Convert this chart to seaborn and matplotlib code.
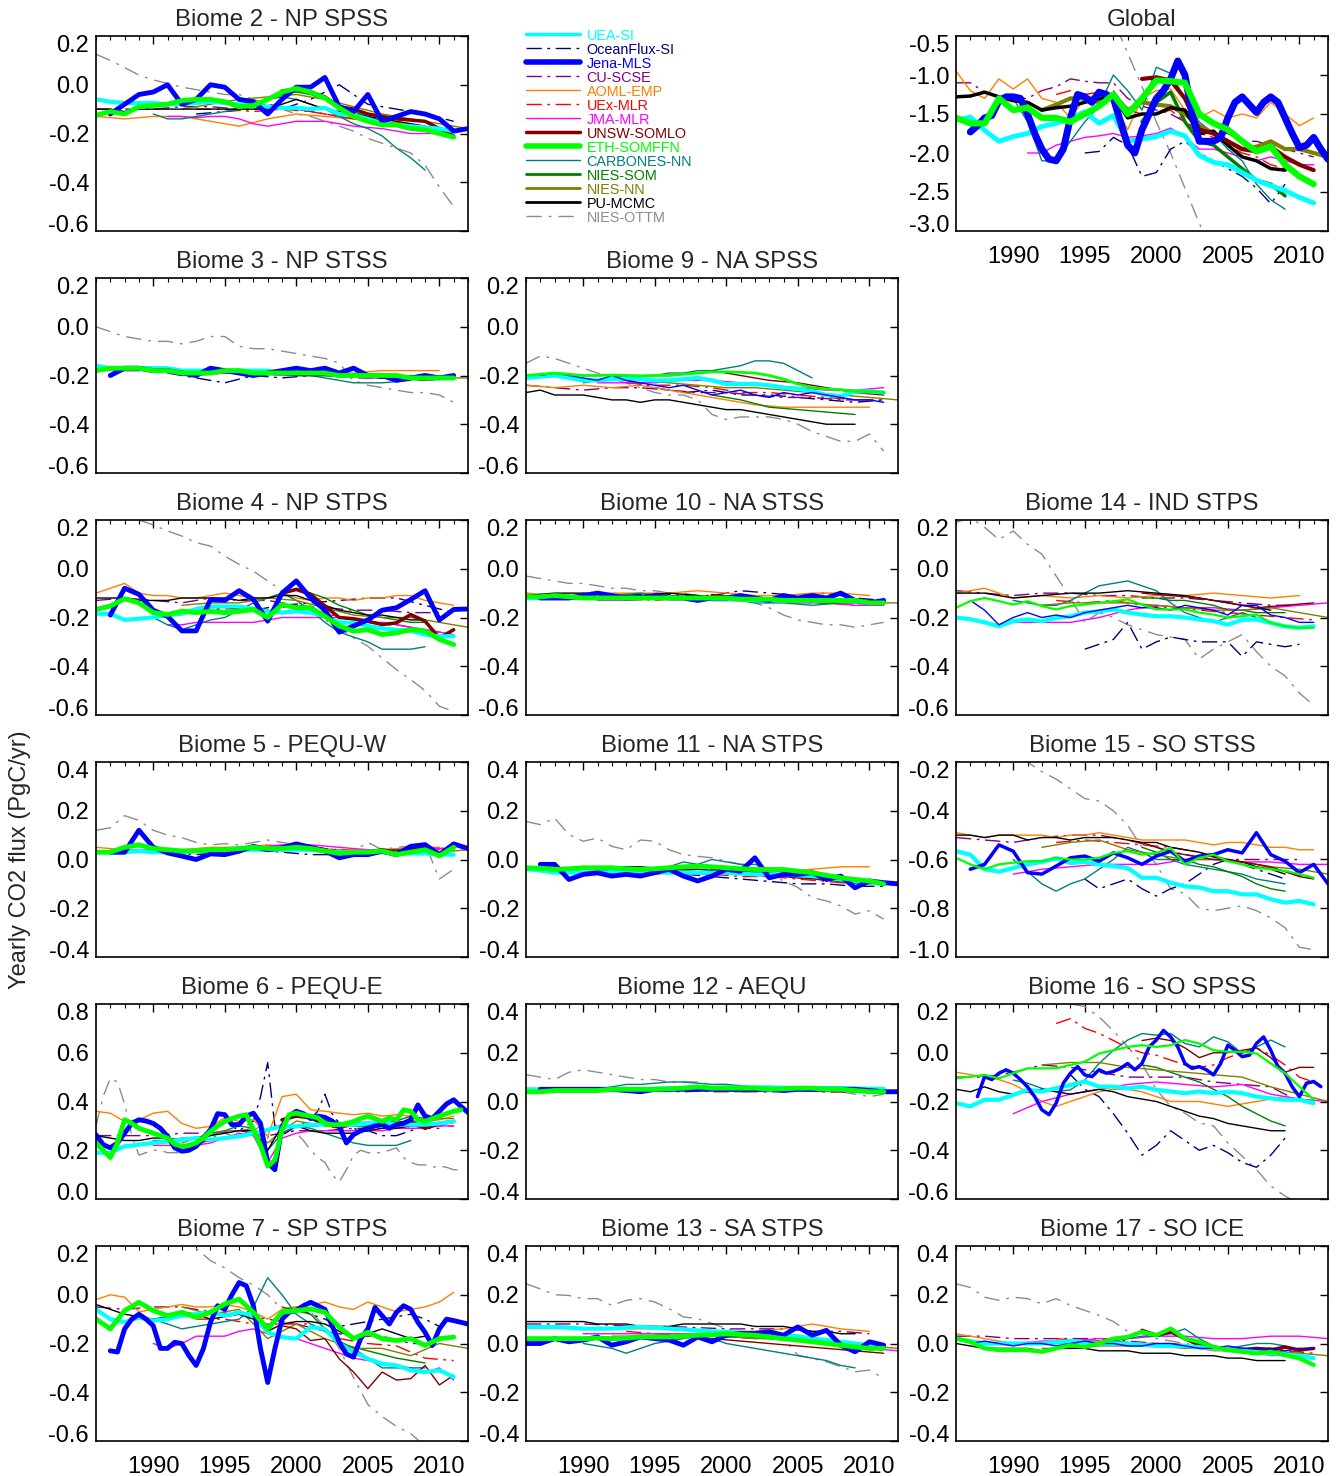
import numpy as np
import matplotlib
matplotlib.use("Agg")
import matplotlib.pyplot as plt
from matplotlib.lines import Line2D
from matplotlib.transforms import ScaledTranslation
from matplotlib.ticker import FormatStrFormatter, MultipleLocator, FixedLocator
import seaborn as sns

# ---------------- series metadata ----------------
SERIES = ["UEA", "OFX", "JENA", "CU", "AOML", "UEX", "JMA", "UNSW", "ETH", "CARB", "NSOM", "NNN", "PU", "OTTM"]
LABELS = ["UEA-SI", "OceanFlux-SI", "Jena-MLS", "CU-SCSE", "AOML-EMP", "UEx-MLR", "JMA-MLR",
          "UNSW-SOMLO", "ETH-SOMFFN", "CARBONES-NN", "NIES-SOM", "NIES-NN", "PU-MCMC", "NIES-OTTM"]
COLORS = ["#00FFFF", "#00007F", "#0000FF", "#7F007F", "#FF7F00", "#FF0000", "#FF00FF",
          "#7F0000", "#00FF00", "#007F7F", "#007F00", "#7F7F00", "#000000", "#8C8C8C"]

# ---------------- data: (start year, step in years, values) ----------------
GLOBAL = dict(
    UEA=(1986, 1, [-1.58,-1.54,-1.71,-1.85,-1.79,-1.75,-1.66,-1.62,-1.56,-1.47,-1.62,-1.52,-1.85,-1.82,-1.79,-1.72,-1.78,-2.03,-2.12,-2.15,-2.25,-2.35,-2.42,-2.48,-2.57,-2.64]),
    JENA=(1987, 0.5, [-1.73,-1.65,-1.55,-1.52,-1.33,-1.28,-1.28,-1.3,-1.5,-1.75,-1.95,-2.08,-2.1,-1.95,-1.55,-1.25,-1.28,-1.35,-1.22,-1.25,-1.3,-1.6,-1.9,-2.0,-1.7,-1.5,-1.3,-1.2,-1.05,-0.82,-1.0,-1.5,-1.85,-1.85,-1.85,-1.8,-1.55,-1.35,-1.28,-1.38,-1.48,-1.35,-1.28,-1.35,-1.55,-1.75,-1.93,-1.9,-1.8,-1.95,-2.08]),
    ETH=(1986, 1, [-1.55,-1.62,-1.62,-1.3,-1.45,-1.42,-1.55,-1.55,-1.6,-1.5,-1.4,-1.25,-1.5,-1.3,-1.07,-1.08,-1.1,-1.5,-1.62,-1.7,-1.85,-1.98,-1.92,-2.15,-2.3,-2.4]),
    UNSW=(1999, 1, [-1.05,-1.03,-1.07,-1.3,-1.7,-1.75,-1.85,-1.95,-1.98,-1.92,-2.05,-2.15,-2.22]),
    PU=(1986, 1, [-1.28,-1.27,-1.22,-1.28,-1.33,-1.35,-1.45,-1.42,-1.4,-1.35,-1.3,-1.28,-1.55,-1.5,-1.5,-1.42,-1.45,-1.75,-1.72,-1.9,-2.05,-2.1,-2.2,-2.22]),
    NNN=(1992, 1, [-1.45,-1.38,-1.3,-1.3,-1.35,-1.25,-1.45,-1.35,-1.38,-1.4,-1.5,-1.65,-1.75,-1.85,-1.95,-1.92,-1.85,-1.95,-1.95,-2.0,-2.05]),
    NSOM=(1999, 1, [-1.6,-1.35,-1.22,-1.6,-1.85,-1.9,-2.05,-2.2,-2.35,-2.4,-2.55]),
    CARB=(1990, 1, [-1.3,-1.6,-2.1,-2.1,-1.85,-1.6,-1.4,-1.0,-1.2,-1.45,-0.9,-0.98,-1.3,-1.6,-1.75,-1.95,-2.1,-2.4,-2.6,-2.72]),
    AOML=(1986, 1, [-0.95,-1.2,-1.3,-1.05,-1.18,-1.05,-1.3,-1.35,-1.55,-1.3,-1.25,-1.35,-1.7,-1.3,-1.2,-1.18,-1.45,-1.55,-1.45,-1.55,-1.5,-1.55,-1.35,-1.5,-1.65,-1.55]),
    JMA=(1991, 1, [-2.0,-2.0,-1.9,-1.85,-1.8,-1.78,-1.75,-1.8,-1.78,-1.75,-1.68,-1.8,-1.95,-1.95,-2.0,-2.05,-2.1,-2.05,-2.1,-2.15,-2.15]),
    CU=(1986, 1, [-1.1,-1.1,-1.22,-1.28,-1.3,-1.3,-1.2,-1.15,-1.05,-1.08,-1.1,-1.1,-1.3,-1.4,-1.45,-1.5,-1.6,-1.7,-1.75,-1.75,-1.85,-1.85,-1.9,-1.95,-2.0,-2.05]),
    UEX=(1993, 1, [-1.25,-1.2,-1.25,-1.22,-1.2,-1.45,-1.5,-1.5,-1.45,-1.6,-1.75,-1.8,-1.9,-2.0,-2.05,-2.15,-2.2,-2.3,-2.4]),
    OFX=(1995, 1, [-2.0,-1.98,-1.8,-1.9,-2.3,-2.25,-1.95,-1.85,-2.0,-2.1,-2.2,-2.3,-2.45,-2.65,-2.4]),
    OTTM=(1996, 1, [-0.05,-0.3,-0.72,-1.15,-1.6,-2.0,-2.45,-2.9,-3.3]),
)

B2 = dict(
    UEA=(1986, 1, [-0.06,-0.07,-0.075,-0.075,-0.075,-0.08,-0.08,-0.075,-0.07,-0.075,-0.08,-0.085,-0.09,-0.095,-0.095,-0.1,-0.095,-0.12,-0.125,-0.14,-0.16,-0.165,-0.17,-0.175,-0.18,-0.19]),
    JENA=(1987, 1, [-0.12,-0.08,-0.04,-0.03,0.0,-0.08,-0.06,0.0,-0.01,-0.06,-0.07,-0.12,-0.06,-0.01,-0.01,0.03,-0.09,-0.11,-0.04,-0.15,-0.13,-0.11,-0.12,-0.14,-0.19,-0.18]),
    ETH=(1986, 1, [-0.125,-0.11,-0.12,-0.09,-0.085,-0.08,-0.065,-0.06,-0.06,-0.07,-0.09,-0.085,-0.06,-0.03,-0.015,-0.03,-0.055,-0.095,-0.13,-0.15,-0.165,-0.165,-0.18,-0.185,-0.2,-0.215]),
    UNSW=(1999, 1, [-0.025,-0.02,-0.03,-0.05,-0.09,-0.1,-0.12,-0.13,-0.14,-0.145,-0.15,-0.18,-0.21]),
    JMA=(1991, 1, [-0.13,-0.13,-0.135,-0.13,-0.13,-0.14,-0.16,-0.17,-0.16,-0.15,-0.15,-0.15,-0.16,-0.17,-0.175,-0.18,-0.19,-0.2,-0.2,-0.2,-0.22]),
    OTTM=(1986, 1, [0.125,0.1,0.07,0.04,0.02,0.005,-0.01,-0.02,-0.03,-0.04,-0.04,-0.06,-0.08,-0.1,-0.12,-0.13,-0.15,-0.17,-0.19,-0.22,-0.24,-0.26,-0.28,-0.33,-0.42,-0.5]),
    PU=(1986, 1, [-0.1,-0.1,-0.11,-0.1,-0.1,-0.1,-0.1,-0.1,-0.1,-0.1,-0.1,-0.1,-0.1,-0.08,-0.06,-0.08,-0.1,-0.11,-0.12,-0.13,-0.14,-0.15,-0.16,-0.17]),
    AOML=(1986, 2, [-0.13,-0.14,-0.13,-0.13,-0.15,-0.17,-0.14,-0.12,-0.13,-0.14,-0.15,-0.16,-0.18]),
    CU=(1986, 2, [-0.1,-0.1,-0.1,-0.09,-0.09,-0.1,-0.08,-0.1,-0.12,-0.14,-0.15,-0.17,-0.19]),
    CARB=(1990, 1, [-0.12,-0.14,-0.14,-0.13,-0.12,-0.11,-0.1,-0.08,-0.06,-0.05,-0.06,-0.08,-0.1,-0.13,-0.16,-0.18,-0.21,-0.26,-0.3,-0.35]),
    UEX=(1993, 2, [-0.1,-0.1,-0.11,-0.1,-0.11,-0.13,-0.15,-0.17,-0.19,-0.2]),
    NNN=(1992, 2, [-0.1,-0.08,-0.06,-0.05,-0.04,-0.06,-0.09,-0.12,-0.14,-0.16,-0.18]),
    NSOM=(1999, 1, [-0.04,-0.03,-0.04,-0.06,-0.09,-0.11,-0.13,-0.15,-0.16,-0.17,-0.19]),
    OFX=(1993, 2, [-0.12,-0.11,-0.1,-0.1,-0.06,0.0,-0.08,-0.1,-0.12,-0.15]),
)

B3 = dict(
    UEA=(1986, 1, [-0.16,-0.17,-0.17,-0.17,-0.17,-0.17,-0.18,-0.18,-0.18,-0.18,-0.18,-0.18,-0.18,-0.19,-0.19,-0.19,-0.19,-0.2,-0.2,-0.2,-0.2,-0.21,-0.21,-0.2,-0.21,-0.21]),
    JENA=(1987, 1, [-0.2,-0.17,-0.17,-0.18,-0.18,-0.19,-0.2,-0.17,-0.18,-0.19,-0.2,-0.19,-0.18,-0.17,-0.18,-0.17,-0.19,-0.17,-0.2,-0.2,-0.22,-0.21,-0.2,-0.21,-0.2]),
    ETH=(1986, 1, [-0.18,-0.17,-0.17,-0.17,-0.18,-0.18,-0.19,-0.19,-0.19,-0.18,-0.18,-0.19,-0.19,-0.19,-0.19,-0.19,-0.19,-0.2,-0.2,-0.2,-0.2,-0.2,-0.21,-0.21,-0.21,-0.21]),
    OTTM=(1986, 1, [0.0,-0.02,-0.04,-0.05,-0.06,-0.06,-0.07,-0.06,-0.04,-0.04,-0.08,-0.09,-0.09,-0.1,-0.11,-0.12,-0.13,-0.15,-0.22,-0.24,-0.25,-0.26,-0.27,-0.27,-0.28,-0.31]),
    PU=(1986, 2, [-0.18,-0.17,-0.18,-0.19,-0.19,-0.18,-0.19,-0.2,-0.2,-0.2,-0.21,-0.21]),
    AOML=(1986, 2, [-0.18,-0.18,-0.17,-0.18,-0.18,-0.18,-0.18,-0.19,-0.19,-0.19,-0.18,-0.18,-0.18]),
    CU=(1986, 2, [-0.17,-0.18,-0.18,-0.19,-0.19,-0.19,-0.19,-0.2,-0.2,-0.21,-0.21,-0.21,-0.2]),
    OFX=(1991, 2, [-0.19,-0.21,-0.23,-0.2,-0.21,-0.2,-0.19,-0.2,-0.21,-0.22,-0.21]),
    UEX=(1993, 2, [-0.18,-0.19,-0.18,-0.19,-0.19,-0.2,-0.2,-0.21,-0.21,-0.2]),
    JMA=(1991, 2, [-0.19,-0.2,-0.19,-0.19,-0.2,-0.2,-0.2,-0.21,-0.21,-0.22,-0.21]),
    UNSW=(1999, 2, [-0.19,-0.19,-0.2,-0.2,-0.21,-0.21,-0.21]),
    CARB=(1990, 2, [-0.18,-0.19,-0.18,-0.18,-0.19,-0.19,-0.21,-0.23,-0.23,-0.22]),
    NSOM=(1999, 2, [-0.18,-0.19,-0.2,-0.2,-0.21,-0.22]),
    NNN=(1992, 2, [-0.18,-0.18,-0.19,-0.19,-0.19,-0.2,-0.2,-0.21,-0.2,-0.21,-0.21]),
)

B9 = dict(
    UEA=(1986, 1, [-0.21,-0.205,-0.2,-0.21,-0.22,-0.22,-0.215,-0.215,-0.215,-0.22,-0.22,-0.215,-0.21,-0.22,-0.235,-0.235,-0.235,-0.24,-0.25,-0.255,-0.265,-0.28,-0.285,-0.265,-0.265,-0.27]),
    ETH=(1986, 1, [-0.2,-0.195,-0.19,-0.195,-0.2,-0.2,-0.198,-0.2,-0.202,-0.2,-0.2,-0.195,-0.19,-0.185,-0.185,-0.187,-0.19,-0.2,-0.215,-0.235,-0.25,-0.255,-0.258,-0.265,-0.265,-0.27]),
    JENA=(1987, 1, [-0.2,-0.19,-0.2,-0.21,-0.22,-0.2,-0.22,-0.23,-0.24,-0.25,-0.24,-0.26,-0.28,-0.27,-0.26,-0.28,-0.29,-0.27,-0.28,-0.27,-0.28,-0.29,-0.3,-0.3,-0.31]),
    OTTM=(1986, 1, [-0.15,-0.12,-0.13,-0.15,-0.17,-0.19,-0.21,-0.23,-0.25,-0.27,-0.28,-0.28,-0.3,-0.36,-0.38,-0.37,-0.37,-0.37,-0.38,-0.4,-0.43,-0.45,-0.47,-0.47,-0.44,-0.51]),
    PU=(1986, 1, [-0.27,-0.26,-0.28,-0.28,-0.28,-0.29,-0.3,-0.3,-0.31,-0.3,-0.3,-0.31,-0.32,-0.33,-0.34,-0.34,-0.35,-0.36,-0.37,-0.38,-0.39,-0.4,-0.4,-0.4]),
    AOML=(1986, 2, [-0.24,-0.25,-0.24,-0.25,-0.24,-0.26,-0.28,-0.3,-0.32,-0.33,-0.33,-0.33,-0.33]),
    CU=(1986, 2, [-0.24,-0.25,-0.26,-0.25,-0.25,-0.26,-0.27,-0.27,-0.28,-0.29,-0.29,-0.3,-0.3]),
    CARB=(1990, 1, [-0.23,-0.22,-0.21,-0.2,-0.2,-0.2,-0.19,-0.19,-0.18,-0.18,-0.17,-0.16,-0.14,-0.14,-0.15,-0.18,-0.21]),
    UEX=(1993, 2, [-0.23,-0.24,-0.24,-0.25,-0.27,-0.27,-0.28,-0.29,-0.3,-0.3]),
    JMA=(1991, 2, [-0.23,-0.23,-0.23,-0.22,-0.22,-0.23,-0.24,-0.25,-0.26,-0.26,-0.25]),
    UNSW=(1999, 2, [-0.18,-0.2,-0.22,-0.23,-0.25,-0.27,-0.28]),
    NSOM=(1999, 2, [-0.28,-0.3,-0.33,-0.34,-0.35,-0.36]),
    NNN=(1992, 2, [-0.22,-0.22,-0.23,-0.24,-0.25,-0.25,-0.26,-0.27,-0.28,-0.29,-0.3]),
    OFX=(1991, 2, [-0.22,-0.22,-0.25,-0.27,-0.26,-0.28,-0.28,-0.29,-0.3,-0.31,-0.3]),
)

B4 = dict(
    JENA=(1987, 1, [-0.19,-0.08,-0.105,-0.17,-0.195,-0.255,-0.255,-0.126,-0.13,-0.09,-0.126,-0.215,-0.1,-0.05,-0.12,-0.17,-0.26,-0.235,-0.21,-0.17,-0.16,-0.126,-0.09,-0.21,-0.167,-0.165]),
    UEA=(1986, 1, [-0.185,-0.185,-0.21,-0.205,-0.2,-0.19,-0.185,-0.165,-0.155,-0.155,-0.155,-0.165,-0.175,-0.18,-0.175,-0.18,-0.195,-0.22,-0.222,-0.235,-0.245,-0.25,-0.255,-0.27,-0.277,-0.277]),
    ETH=(1986, 1, [-0.167,-0.153,-0.123,-0.14,-0.18,-0.188,-0.174,-0.18,-0.175,-0.18,-0.175,-0.167,-0.2,-0.147,-0.16,-0.16,-0.195,-0.235,-0.256,-0.25,-0.27,-0.263,-0.25,-0.255,-0.29,-0.311]),
    UNSW=(1999, 1, [-0.1,-0.085,-0.105,-0.153,-0.2,-0.205,-0.215,-0.229,-0.222,-0.188,-0.215,-0.284,-0.25]),
    OTTM=(1987, 1, [0.26,0.23,0.2,0.18,0.155,0.134,0.107,0.093,0.052,0.018,-0.01,-0.05,-0.09,-0.133,-0.167,-0.21,-0.242,-0.284,-0.318,-0.366,-0.414,-0.455,-0.5,-0.564,-0.585]),
    AOML=(1986, 1, [-0.1,-0.08,-0.06,-0.1,-0.11,-0.11,-0.12,-0.12,-0.11,-0.1,-0.11,-0.12,-0.12,-0.1,-0.12,-0.13,-0.12,-0.12,-0.13,-0.12,-0.12,-0.11,-0.11,-0.13,-0.14,-0.15]),
    PU=(1986, 1, [-0.12,-0.12,-0.12,-0.13,-0.13,-0.13,-0.12,-0.12,-0.12,-0.12,-0.13,-0.12,-0.12,-0.11,-0.11,-0.13,-0.15,-0.17,-0.18,-0.19,-0.19,-0.2,-0.21,-0.21]),
    CU=(1986, 2, [-0.13,-0.12,-0.13,-0.14,-0.12,-0.13,-0.13,-0.15,-0.16,-0.17,-0.17,-0.18,-0.18]),
    JMA=(1991, 1, [-0.23,-0.23,-0.22,-0.22,-0.22,-0.22,-0.22,-0.21,-0.2,-0.2,-0.2,-0.2,-0.2,-0.21,-0.22,-0.22,-0.23,-0.24,-0.25,-0.26,-0.27]),
    CARB=(1990, 1, [-0.2,-0.23,-0.25,-0.23,-0.21,-0.2,-0.17,-0.14,-0.12,-0.1,-0.13,-0.17,-0.22,-0.26,-0.28,-0.3,-0.33,-0.33,-0.33,-0.32]),
    UEX=(1993, 1, [-0.16,-0.16,-0.17,-0.17,-0.16,-0.17,-0.16,-0.15,-0.17,-0.18,-0.2,-0.21,-0.22,-0.23,-0.23,-0.24,-0.25,-0.26,-0.27]),
    NNN=(1992, 2, [-0.15,-0.14,-0.14,-0.12,-0.13,-0.16,-0.19,-0.2,-0.2,-0.22,-0.24]),
    NSOM=(1999, 1, [-0.1,-0.08,-0.1,-0.12,-0.15,-0.17,-0.19,-0.2,-0.21,-0.22,-0.22]),
    OFX=(1993, 2, [-0.18,-0.16,-0.17,-0.15,-0.14,-0.13,-0.12,-0.12,-0.15,-0.18]),
)

B10 = dict(
    JENA=(1987, 1, [-0.12,-0.12,-0.12,-0.11,-0.1,-0.11,-0.12,-0.12,-0.11,-0.12,-0.12,-0.13,-0.12,-0.12,-0.11,-0.12,-0.13,-0.11,-0.12,-0.11,-0.12,-0.1,-0.13,-0.14,-0.13]),
    UEA=(1986, 1, [-0.12,-0.12,-0.12,-0.12,-0.12,-0.12,-0.12,-0.12,-0.12,-0.12,-0.12,-0.12,-0.12,-0.125,-0.125,-0.125,-0.13,-0.13,-0.13,-0.13,-0.13,-0.13,-0.13,-0.135,-0.14,-0.14]),
    ETH=(1986, 1, [-0.115,-0.115,-0.11,-0.115,-0.12,-0.12,-0.12,-0.12,-0.12,-0.12,-0.12,-0.12,-0.12,-0.12,-0.12,-0.125,-0.125,-0.125,-0.13,-0.13,-0.13,-0.13,-0.13,-0.13,-0.14,-0.14]),
    OTTM=(1986, 1, [-0.03,-0.04,-0.05,-0.06,-0.06,-0.07,-0.08,-0.08,-0.09,-0.09,-0.1,-0.1,-0.11,-0.11,-0.12,-0.13,-0.14,-0.16,-0.19,-0.21,-0.22,-0.23,-0.23,-0.24,-0.23,-0.22]),
    PU=(1986, 2, [-0.11,-0.1,-0.1,-0.11,-0.11,-0.1,-0.11,-0.12,-0.12,-0.12,-0.13,-0.13]),
    AOML=(1986, 2, [-0.1,-0.11,-0.11,-0.1,-0.1,-0.1,-0.09,-0.1,-0.11,-0.11,-0.1,-0.1,-0.11]),
    CU=(1986, 2, [-0.11,-0.12,-0.11,-0.12,-0.12,-0.11,-0.12,-0.13,-0.13,-0.13,-0.14,-0.14,-0.14]),
    CARB=(1990, 2, [-0.1,-0.11,-0.1,-0.12,-0.13,-0.12,-0.14,-0.14,-0.15,-0.14]),
    UEX=(1993, 2, [-0.12,-0.13,-0.12,-0.13,-0.13,-0.14,-0.13,-0.14,-0.15,-0.15]),
    JMA=(1991, 2, [-0.13,-0.13,-0.12,-0.12,-0.13,-0.13,-0.13,-0.14,-0.14,-0.15,-0.15]),
    UNSW=(1999, 2, [-0.11,-0.12,-0.13,-0.12,-0.13,-0.13,-0.14]),
    NSOM=(1999, 2, [-0.12,-0.12,-0.13,-0.13,-0.14,-0.14]),
    NNN=(1992, 2, [-0.11,-0.11,-0.12,-0.12,-0.12,-0.13,-0.13,-0.13,-0.14,-0.14,-0.14]),
    OFX=(1991, 2, [-0.12,-0.11,-0.1,-0.11,-0.11,-0.09,-0.1,-0.11,-0.1,-0.12,-0.13]),
)

B14 = dict(
    UEA=(1986, 1, [-0.2,-0.207,-0.22,-0.236,-0.215,-0.208,-0.215,-0.202,-0.195,-0.18,-0.175,-0.167,-0.18,-0.188,-0.195,-0.195,-0.2,-0.208,-0.215,-0.229,-0.21,-0.208,-0.222,-0.236,-0.242,-0.236]),
    ETH=(1986, 1, [-0.16,-0.133,-0.12,-0.133,-0.147,-0.133,-0.153,-0.167,-0.153,-0.147,-0.14,-0.133,-0.126,-0.147,-0.167,-0.167,-0.167,-0.18,-0.188,-0.2,-0.195,-0.188,-0.222,-0.236,-0.242,-0.242]),
    JENA=(1987, 1, [-0.13,-0.17,-0.23,-0.2,-0.18,-0.2,-0.19,-0.2,-0.18,-0.17,-0.16,-0.15,-0.16,-0.16,-0.17,-0.15,-0.16,-0.17,-0.19,-0.15,-0.15,-0.19,-0.2,-0.22,-0.22]),
    OTTM=(1986, 1, [0.19,0.21,0.17,0.12,0.155,0.1,0.06,-0.03,-0.12,-0.22,-0.18,-0.2,-0.23,-0.25,-0.27,-0.28,-0.29,-0.37,-0.33,-0.3,-0.27,-0.34,-0.4,-0.44,-0.51,-0.56]),
    OFX=(1995, 1, [-0.33,-0.31,-0.29,-0.22,-0.33,-0.3,-0.28,-0.29,-0.3,-0.3,-0.3,-0.36,-0.3,-0.31,-0.32,-0.31]),
    PU=(1986, 2, [-0.1,-0.1,-0.12,-0.11,-0.1,-0.1,-0.09,-0.1,-0.11,-0.13,-0.15,-0.17]),
    CU=(1986, 2, [-0.09,-0.1,-0.11,-0.1,-0.1,-0.11,-0.11,-0.12,-0.12,-0.13,-0.14,-0.15,-0.15]),
    AOML=(1986, 2, [-0.1,-0.08,-0.12,-0.11,-0.12,-0.11,-0.12,-0.11,-0.11,-0.1,-0.11,-0.12,-0.11]),
    CARB=(1990, 1, [-0.13,-0.14,-0.15,-0.15,-0.13,-0.1,-0.07,-0.06,-0.05,-0.07,-0.09,-0.14,-0.18,-0.2,-0.22,-0.2,-0.18,-0.2]),
    UEX=(1993, 2, [-0.13,-0.14,-0.13,-0.15,-0.16,-0.17,-0.18,-0.19,-0.2,-0.21]),
    JMA=(1990, 2, [-0.22,-0.22,-0.22,-0.2,-0.17,-0.15,-0.16,-0.16,-0.17,-0.16,-0.15,-0.14]),
    NNN=(1992, 2, [-0.15,-0.14,-0.14,-0.14,-0.15,-0.16,-0.17,-0.17,-0.16,-0.18,-0.2]),
    NSOM=(1999, 1, [-0.12,-0.12,-0.13,-0.13,-0.14,-0.15,-0.17,-0.17,-0.18,-0.18,-0.18]),
    UNSW=(1999, 2, [-0.1,-0.11,-0.12,-0.14,-0.16,-0.15,-0.14]),
)

B5 = dict(
    JENA=(1987, 1, [0.03,0.03,0.12,0.05,0.027,0.014,0.0,0.023,0.02,0.034,0.054,0.04,0.048,0.064,0.05,0.035,0.007,0.02,0.02,0.034,0.02,0.054,0.061,0.02,0.064,0.045]),
    UEA=(1986, 1, [0.03,0.03,0.03,0.035,0.03,0.03,0.03,0.035,0.035,0.035,0.04,0.04,0.04,0.04,0.04,0.04,0.035,0.03,0.03,0.03,0.03,0.025,0.025,0.025,0.02,0.02]),
    ETH=(1986, 1, [0.03,0.03,0.05,0.06,0.045,0.04,0.035,0.035,0.04,0.04,0.045,0.05,0.045,0.045,0.05,0.045,0.035,0.025,0.03,0.03,0.035,0.02,0.03,0.04,0.015,0.05]),
    OTTM=(1986, 1, [0.12,0.13,0.18,0.16,0.12,0.1,0.09,0.07,0.06,0.065,0.06,0.07,0.08,0.07,0.06,0.05,0.045,0.04,0.035,0.07,0.04,0.05,0.055,0.065,-0.08,-0.04]),
    AOML=(1986, 2, [0.05,0.04,0.04,0.04,0.05,0.05,0.06,0.05,0.04,0.04,0.04,0.05,0.05]),
    PU=(1986, 2, [0.03,0.03,0.04,0.04,0.04,0.05,0.05,0.05,0.04,0.03,0.03,0.03]),
    CU=(1986, 2, [0.03,0.04,0.04,0.04,0.04,0.05,0.05,0.05,0.04,0.04,0.04,0.04,0.04]),
    JMA=(1991, 2, [0.04,0.04,0.04,0.05,0.06,0.06,0.05,0.04,0.04,0.05,0.04]),
    UEX=(1993, 2, [0.04,0.04,0.05,0.05,0.05,0.04,0.03,0.04,0.04,0.05]),
    UNSW=(1999, 1, [0.04,0.05,0.05,0.04,0.03,0.03,0.03,0.04,0.03,0.04,0.05,0.02,0.05]),
    CARB=(1990, 2, [0.03,0.03,0.04,0.04,0.05,0.04,0.03,0.03,0.03,0.03]),
    NSOM=(1999, 2, [0.04,0.05,0.03,0.03,0.04,0.04]),
    NNN=(1992, 2, [0.03,0.03,0.04,0.05,0.05,0.04,0.03,0.03,0.04,0.03,0.04]),
    OFX=(1991, 2, [0.03,0.02,0.03,0.04,0.03,0.02,0.02,0.03,0.03,0.02,0.02]),
)

B11 = dict(
    JENA=(1987, 1, [-0.02,-0.02,-0.082,-0.061,-0.055,-0.068,-0.061,-0.068,-0.054,-0.04,-0.068,-0.088,-0.068,-0.04,-0.048,0.007,-0.075,-0.061,-0.061,-0.054,-0.082,-0.068,-0.116,-0.088,-0.095,-0.1]),
    UEA=(1986, 1, [-0.04,-0.045,-0.054,-0.054,-0.054,-0.054,-0.054,-0.052,-0.048,-0.05,-0.054,-0.054,-0.054,-0.054,-0.054,-0.058,-0.061,-0.061,-0.061,-0.065,-0.068,-0.075,-0.082,-0.088,-0.095,-0.098]),
    ETH=(1986, 1, [-0.034,-0.036,-0.041,-0.038,-0.034,-0.034,-0.034,-0.038,-0.041,-0.038,-0.034,-0.03,-0.027,-0.03,-0.034,-0.038,-0.041,-0.041,-0.041,-0.048,-0.054,-0.065,-0.075,-0.082,-0.088,-0.1]),
    OTTM=(1986, 1, [0.156,0.143,0.17,0.102,0.075,0.088,0.054,0.04,0.08,0.075,0.04,0.02,0.013,0.007,-0.007,-0.02,-0.04,-0.06,-0.088,-0.115,-0.156,-0.17,-0.19,-0.224,-0.21,-0.245]),
    AOML=(1986, 2, [-0.03,-0.04,-0.04,-0.05,-0.05,-0.04,-0.05,-0.05,-0.04,-0.05,-0.04,-0.03,-0.03]),
    PU=(1986, 2, [-0.03,-0.04,-0.04,-0.03,-0.03,-0.04,-0.04,-0.05,-0.05,-0.06,-0.07,-0.08]),
    CU=(1986, 2, [-0.03,-0.04,-0.05,-0.05,-0.04,-0.05,-0.05,-0.06,-0.06,-0.07,-0.08,-0.09,-0.1]),
    CARB=(1990, 1, [-0.05,-0.05,-0.04,-0.05,-0.05,-0.04,-0.03,-0.01,-0.02,0.0,-0.01,-0.02,-0.02,-0.04,-0.05,-0.06,-0.07,-0.08,-0.09,-0.1]),
    UEX=(1993, 2, [-0.05,-0.06,-0.05,-0.06,-0.07,-0.07,-0.08,-0.09,-0.1,-0.1]),
    JMA=(1991, 2, [-0.06,-0.05,-0.05,-0.06,-0.06,-0.06,-0.07,-0.07,-0.08,-0.09,-0.1]),
    UNSW=(1999, 2, [-0.04,-0.05,-0.06,-0.07,-0.08,-0.09,-0.1]),
    NSOM=(1999, 2, [-0.05,-0.05,-0.06,-0.07,-0.08,-0.09]),
    NNN=(1992, 2, [-0.04,-0.05,-0.04,-0.05,-0.05,-0.06,-0.06,-0.07,-0.08,-0.09,-0.1]),
    OFX=(1991, 2, [-0.05,-0.06,-0.05,-0.06,-0.07,-0.08,-0.09,-0.1,-0.1,-0.11,-0.11]),
)

B15 = dict(
    UEA=(1986, 1, [-0.566,-0.58,-0.64,-0.65,-0.635,-0.62,-0.61,-0.595,-0.615,-0.61,-0.62,-0.627,-0.635,-0.675,-0.675,-0.695,-0.71,-0.715,-0.73,-0.73,-0.743,-0.743,-0.763,-0.777,-0.77,-0.784]),
    JENA=(1987, 1, [-0.64,-0.62,-0.54,-0.566,-0.654,-0.66,-0.627,-0.593,-0.586,-0.607,-0.573,-0.593,-0.62,-0.586,-0.566,-0.607,-0.586,-0.58,-0.56,-0.573,-0.49,-0.58,-0.607,-0.654,-0.62,-0.7]),
    ETH=(1986, 1, [-0.593,-0.62,-0.64,-0.62,-0.613,-0.607,-0.607,-0.593,-0.6,-0.6,-0.593,-0.573,-0.566,-0.58,-0.573,-0.553,-0.62,-0.593,-0.58,-0.607,-0.62,-0.634,-0.64,-0.647,-0.66,-0.675]),
    OTTM=(1989, 1, [-0.1,-0.17,-0.2,-0.24,-0.27,-0.31,-0.35,-0.36,-0.4,-0.46,-0.55,-0.62,-0.72,-0.74,-0.8,-0.81,-0.8,-0.79,-0.81,-0.84,-0.88,-0.96,-0.97]),
    AOML=(1986, 1, [-0.49,-0.5,-0.51,-0.5,-0.5,-0.5,-0.5,-0.51,-0.5,-0.5,-0.49,-0.5,-0.51,-0.52,-0.52,-0.52,-0.52,-0.53,-0.54,-0.53,-0.53,-0.54,-0.55,-0.55,-0.56,-0.56]),
    PU=(1986, 1, [-0.5,-0.5,-0.51,-0.5,-0.5,-0.52,-0.51,-0.51,-0.52,-0.51,-0.51,-0.51,-0.52,-0.53,-0.53,-0.55,-0.56,-0.57,-0.59,-0.6,-0.61,-0.63,-0.64,-0.66]),
    CU=(1986, 2, [-0.51,-0.52,-0.53,-0.51,-0.5,-0.5,-0.52,-0.55,-0.58,-0.6,-0.6,-0.6,-0.6]),
    CARB=(1990, 1, [-0.6,-0.65,-0.7,-0.73,-0.7,-0.68,-0.64,-0.6,-0.55,-0.57,-0.6,-0.6,-0.62,-0.63,-0.64,-0.65,-0.66,-0.68,-0.69,-0.7]),
    UEX=(1993, 2, [-0.53,-0.52,-0.53,-0.54,-0.55,-0.57,-0.6,-0.62,-0.65,-0.68]),
    JMA=(1990, 2, [-0.66,-0.64,-0.63,-0.62,-0.62,-0.62,-0.6,-0.6,-0.61,-0.61,-0.62,-0.62]),
    UNSW=(1999, 1, [-0.53,-0.55,-0.57,-0.58,-0.59,-0.6,-0.6,-0.61,-0.62,-0.63,-0.65,-0.67,-0.68]),
    NSOM=(1999, 1, [-0.55,-0.57,-0.6,-0.6,-0.62,-0.63,-0.65,-0.67,-0.7,-0.72,-0.73]),
    NNN=(1992, 2, [-0.55,-0.53,-0.52,-0.56,-0.58,-0.6,-0.6,-0.61,-0.63,-0.64,-0.66]),
    OFX=(1995, 1, [-0.68,-0.72,-0.7,-0.68,-0.72,-0.75,-0.72,-0.7,-0.66,-0.62,-0.6,-0.62,-0.64,-0.66,-0.68]),
)

B6 = dict(
    JENA=(1986, 0.5, [0.264,0.223,0.21,0.23,0.27,0.31,0.325,0.32,0.31,0.29,0.257,0.21,0.196,0.2,0.216,0.25,0.284,0.35,0.346,0.305,0.305,0.34,0.352,0.31,0.148,0.12,0.298,0.34,0.36,0.35,0.33,0.34,0.335,0.32,0.298,0.23,0.264,0.28,0.29,0.3,0.305,0.29,0.305,0.31,0.325,0.386,0.34,0.33,0.36,0.39,0.407,0.38,0.355]),
    ETH=(1986, 0.5, [0.23,0.2,0.17,0.23,0.325,0.31,0.29,0.28,0.27,0.26,0.25,0.225,0.216,0.22,0.23,0.25,0.277,0.3,0.318,0.33,0.34,0.346,0.284,0.22,0.135,0.16,0.284,0.346,0.352,0.345,0.34,0.333,0.31,0.305,0.305,0.31,0.318,0.33,0.34,0.33,0.318,0.333,0.325,0.366,0.36,0.325,0.318,0.33,0.34,0.35,0.36,0.366]),
    UEA=(1986, 1, [0.19,0.19,0.216,0.223,0.23,0.236,0.243,0.25,0.243,0.25,0.257,0.27,0.284,0.298,0.298,0.305,0.305,0.305,0.305,0.31,0.318,0.305,0.305,0.305,0.31,0.318]),
    UNSW=(1999, 1, [0.325,0.34,0.333,0.305,0.298,0.31,0.31,0.318,0.31,0.318,0.29,0.31,0.318]),
    AOML=(1986, 1, [0.36,0.352,0.318,0.325,0.352,0.36,0.31,0.29,0.298,0.333,0.318,0.325,0.257,0.42,0.43,0.366,0.36,0.352,0.346,0.352,0.34,0.346,0.34,0.318,0.325,0.34]),
    OFX=(1995, 0.5, [0.33,0.3,0.28,0.3,0.32,0.42,0.56,0.3,0.26,0.28,0.3,0.31,0.33,0.36,0.43,0.35,0.31,0.3,0.29,0.28,0.28,0.27,0.26,0.26,0.26,0.27,0.28,0.29,0.3,0.3,0.3,0.3]),
    OTTM=(1986, 0.5, [0.3,0.42,0.495,0.48,0.39,0.26,0.18,0.19,0.2,0.2,0.19,0.19,0.19,0.2,0.22,0.23,0.25,0.26,0.27,0.26,0.26,0.27,0.28,0.3,0.25,0.3,0.3,0.29,0.27,0.24,0.2,0.17,0.15,0.1,0.07,0.12,0.18,0.2,0.19,0.19,0.19,0.2,0.21,0.17,0.15,0.14,0.14,0.13,0.135,0.13,0.12,0.12]),
    PU=(1986, 1, [0.26,0.25,0.24,0.24,0.25,0.25,0.24,0.25,0.26,0.27,0.28,0.28,0.2,0.3,0.3,0.28,0.27,0.27,0.27,0.28,0.29,0.29,0.3,0.3]),
    CU=(1986, 2, [0.26,0.26,0.26,0.27,0.27,0.28,0.26,0.28,0.28,0.29,0.29,0.29,0.29]),
    JMA=(1990, 1, [0.22,0.22,0.22,0.22,0.23,0.25,0.27,0.26,0.15,0.25,0.27,0.28,0.28,0.28,0.28,0.28,0.28,0.29,0.29,0.29,0.3,0.3]),
    UEX=(1993, 1, [0.23,0.24,0.25,0.26,0.26,0.22,0.27,0.3,0.3,0.3,0.29,0.3,0.3,0.3,0.3,0.3,0.3,0.3,0.3]),
    CARB=(1990, 1, [0.24,0.24,0.25,0.25,0.27,0.28,0.3,0.29,0.2,0.27,0.3,0.29,0.27,0.25,0.23,0.22,0.22,0.22,0.24]),
    NNN=(1992, 1, [0.23,0.25,0.26,0.28,0.28,0.29,0.23,0.28,0.32,0.31,0.3,0.3,0.3,0.3,0.3,0.31,0.32,0.32,0.33,0.33]),
    NSOM=(1999, 1, [0.32,0.35,0.34,0.32,0.31,0.3,0.3,0.31,0.32,0.34,0.33]),
)

B12 = dict(
    UEA=(1986, 1, [0.05,0.05,0.05,0.05,0.05,0.05,0.05,0.05,0.05,0.052,0.053,0.055,0.055,0.055,0.056,0.057,0.058,0.058,0.056,0.055,0.055,0.055,0.055,0.053,0.052,0.052]),
    ETH=(1986, 1, [0.04,0.04,0.045,0.045,0.045,0.045,0.05,0.05,0.05,0.05,0.052,0.055,0.06,0.055,0.055,0.055,0.055,0.05,0.052,0.055,0.055,0.05,0.05,0.045,0.04,0.04]),
    JENA=(1987, 1, [0.05,0.05,0.05,0.05,0.05,0.05,0.045,0.04,0.05,0.05,0.05,0.05,0.05,0.05,0.05,0.05,0.05,0.045,0.05,0.05,0.05,0.05,0.05,0.045,0.04,0.04]),
    OTTM=(1986, 1, [0.11,0.1,0.09,0.12,0.13,0.12,0.11,0.1,0.09,0.09,0.08,0.08,0.08,0.07,0.07,0.06,0.06,0.06,0.05,0.05,0.05,0.04,0.04,0.03,0.02,0.03]),
    CARB=(1990, 1, [0.05,0.05,0.06,0.07,0.07,0.075,0.08,0.08,0.075,0.07,0.07,0.065,0.06,0.06,0.055,0.05,0.05,0.05,0.05,0.05]),
    PU=(1986, 2, [0.05,0.05,0.05,0.05,0.05,0.05,0.05,0.06,0.055,0.05,0.05,0.05]),
    AOML=(1986, 2, [0.05,0.05,0.05,0.05,0.05,0.05,0.05,0.05,0.05,0.05,0.045,0.045,0.04]),
    CU=(1986, 2, [0.05,0.05,0.05,0.05,0.05,0.05,0.05,0.05,0.05,0.05,0.05,0.05,0.05]),
    UEX=(1993, 2, [0.045,0.045,0.05,0.04,0.04,0.04,0.045,0.04,0.04,0.04]),
    JMA=(1990, 2, [0.045,0.045,0.05,0.05,0.05,0.05,0.05,0.05,0.05,0.05,0.045,0.045]),
    UNSW=(1999, 2, [0.05,0.05,0.05,0.05,0.05,0.045,0.04]),
    NSOM=(1999, 2, [0.05,0.04,0.045,0.05,0.045,0.04]),
    NNN=(1992, 2, [0.05,0.05,0.05,0.05,0.05,0.05,0.05,0.05,0.045,0.045,0.04]),
    OFX=(1991, 2, [0.05,0.05,0.045,0.04,0.045,0.045,0.04,0.045,0.04,0.04,0.04]),
)

B16 = dict(
    UEA=(1986, 1, [-0.207,-0.22,-0.193,-0.193,-0.173,-0.152,-0.159,-0.146,-0.132,-0.118,-0.139,-0.139,-0.146,-0.139,-0.152,-0.159,-0.166,-0.159,-0.166,-0.16,-0.166,-0.18,-0.187,-0.193,-0.193,-0.207]),
    JENA=(1987.5, 0.5, [-0.18,-0.098,-0.11,-0.084,-0.07,-0.084,-0.11,-0.14,-0.18,-0.234,-0.254,-0.207,-0.125,-0.084,-0.057,-0.091,-0.098,-0.07,-0.084,-0.077,-0.064,-0.044,-0.07,-0.044,0.024,0.052,0.092,0.065,0.024,-0.044,-0.064,-0.057,-0.07,-0.091,-0.044,0.031,0.01,-0.016,-0.01,0.038,0.065,0.01,-0.057,-0.084,-0.14,-0.18,-0.125,-0.118,-0.139]),
    ETH=(1986, 1, [-0.105,-0.098,-0.091,-0.105,-0.084,-0.064,-0.064,-0.064,-0.05,-0.037,-0.003,0.01,0.024,0.031,0.024,0.031,0.052,0.038,0.01,0.004,0.004,-0.003,-0.044,-0.084,-0.139,-0.193]),
    CARB=(1990, 1, [-0.112,-0.125,-0.146,-0.16,-0.152,-0.112,-0.044,0.01,0.052,0.079,0.072,0.079,0.038,0.024,0.065,0.045,-0.003,0.024,0.052,0.024]),
    UEX=(1993, 1, [0.12,0.14,0.1,0.08,0.05,0.02,0.0,-0.01,-0.03,-0.05,-0.06,-0.05,-0.02,0.0,0.02,-0.01,-0.05,-0.1,-0.12]),
    OFX=(1994, 1, [-0.09,-0.15,-0.18,-0.25,-0.33,-0.42,-0.38,-0.32,-0.36,-0.4,-0.38,-0.41,-0.45,-0.47,-0.42,-0.35]),
    OTTM=(1990, 1, [0.3,0.27,0.24,0.22,0.2,0.19,0.147,0.09,0.024,-0.044,-0.15,-0.22,-0.248,-0.288,-0.3,-0.37,-0.424,-0.479,-0.547,-0.588,-0.62]),
    PU=(1986, 1, [-0.15,-0.16,-0.14,-0.16,-0.17,-0.16,-0.15,-0.16,-0.17,-0.16,-0.15,-0.16,-0.18,-0.19,-0.2,-0.22,-0.24,-0.26,-0.27,-0.29,-0.3,-0.31,-0.32,-0.32]),
    AOML=(1986, 1, [-0.08,-0.09,-0.1,-0.11,-0.13,-0.16,-0.2,-0.22,-0.2,-0.18,-0.16,-0.15,-0.15,-0.16,-0.18,-0.2,-0.2,-0.2,-0.21,-0.22,-0.21,-0.2,-0.19,-0.18,-0.19,-0.2]),
    CU=(1986, 2, [-0.1,-0.1,-0.08,-0.05,-0.06,-0.08,-0.1,-0.1,-0.1,-0.12,-0.13,-0.14,-0.2]),
    JMA=(1990, 2, [-0.25,-0.2,-0.17,-0.15,-0.13,-0.12,-0.13,-0.14,-0.13,-0.17,-0.19,-0.2]),
    NNN=(1992, 2, [-0.05,-0.04,-0.04,-0.06,-0.07,-0.08,-0.09,-0.1,-0.14,-0.17,-0.2]),
    NSOM=(1999, 1, [-0.05,-0.06,-0.08,-0.1,-0.12,-0.15,-0.18,-0.22,-0.25,-0.28,-0.3]),
    UNSW=(1999, 1, [0.05,0.06,0.05,0.02,-0.02,0.0,0.0,0.01,0.02,-0.02,-0.08,-0.06,-0.06]),
)

B7 = dict(
    JENA=(1987, 0.5, [-0.23,-0.235,-0.14,-0.1,-0.08,-0.1,-0.127,-0.22,-0.22,-0.195,-0.2,-0.25,-0.29,-0.222,-0.113,-0.045,-0.06,0.0,0.05,0.037,-0.045,-0.222,-0.36,-0.222,-0.1,-0.072,-0.065,-0.045,-0.031,-0.045,-0.06,-0.127,-0.195,-0.243,-0.256,-0.18,-0.14,-0.052,-0.086,-0.12,-0.072,-0.045,-0.06,-0.113,-0.154,-0.208,-0.14,-0.1,-0.106,-0.113,-0.12]),
    UEA=(1986, 1, [-0.06,-0.1,-0.113,-0.093,-0.106,-0.1,-0.086,-0.079,-0.072,-0.086,-0.072,-0.086,-0.154,-0.174,-0.18,-0.133,-0.14,-0.2,-0.235,-0.263,-0.283,-0.29,-0.31,-0.317,-0.31,-0.337]),
    ETH=(1986, 1, [-0.1,-0.14,-0.065,-0.031,-0.065,-0.086,-0.072,-0.093,-0.072,-0.038,-0.018,-0.072,-0.14,-0.072,-0.065,-0.058,-0.072,-0.133,-0.18,-0.154,-0.18,-0.188,-0.18,-0.208,-0.18,-0.174]),
    UNSW=(1999, 1, [-0.127,-0.14,-0.188,-0.18,-0.263,-0.317,-0.385,-0.317,-0.35,-0.344,-0.29,-0.37,-0.33]),
    OTTM=(1992, 1, [0.26,0.19,0.14,0.11,0.07,0.04,0.0,-0.06,-0.05,-0.07,-0.13,-0.22,-0.34,-0.45,-0.5,-0.54,-0.57,-0.62]),
    AOML=(1986, 1, [-0.02,0.0,-0.01,-0.07,-0.06,-0.05,-0.04,-0.05,-0.05,-0.04,-0.05,-0.07,-0.1,-0.06,-0.05,-0.04,-0.03,-0.05,-0.06,-0.03,-0.05,-0.07,-0.06,-0.05,-0.03,0.01]),
    PU=(1986, 1, [-0.04,-0.06,-0.08,-0.09,-0.1,-0.09,-0.07,-0.08,-0.1,-0.09,-0.08,-0.1,-0.15,-0.12,-0.11,-0.11,-0.12,-0.15,-0.18,-0.16,-0.14,-0.16,-0.18,-0.17]),
    CU=(1986, 2, [-0.05,-0.06,-0.05,-0.05,-0.07,-0.08,-0.1,-0.12,-0.15,-0.17,-0.17,-0.2,-0.2]),
    JMA=(1990, 1, [-0.2,-0.22,-0.2,-0.17,-0.17,-0.17,-0.15,-0.14,-0.16,-0.17,-0.18,-0.2,-0.22,-0.24,-0.26,-0.27,-0.28,-0.29,-0.3,-0.32,-0.3,-0.35]),
    CARB=(1990, 1, [-0.1,-0.12,-0.14,-0.13,-0.12,-0.11,-0.1,-0.05,0.07,0.0,-0.08,-0.12,-0.15,-0.19,-0.22,-0.26,-0.3,-0.3,-0.3,-0.3]),
    UEX=(1993, 2, [-0.1,-0.1,-0.12,-0.12,-0.12,-0.18,-0.2,-0.21,-0.26,-0.27]),
    NNN=(1992, 2, [-0.05,-0.08,-0.06,-0.18,-0.12,-0.18,-0.22,-0.22,-0.25,-0.2,-0.22]),
    NSOM=(1999, 2, [-0.05,-0.08,-0.2,-0.23,-0.26,-0.28]),
    OFX=(2000, 1, [-0.05,-0.08,-0.1,-0.13,-0.12,-0.11,-0.1,-0.09,-0.08,-0.1,-0.13]),
)

B13 = dict(
    UEA=(1986, 1, [0.068,0.068,0.068,0.065,0.061,0.061,0.061,0.065,0.068,0.065,0.061,0.058,0.054,0.05,0.048,0.045,0.034,0.034,0.034,0.03,0.02,0.015,0.007,0.0,-0.007,-0.014]),
    JENA=(1986, 1, [0.0,0.0,0.02,0.007,0.014,0.027,-0.007,0.007,0.027,0.02,0.014,-0.007,0.027,0.007,0.034,0.041,0.041,0.048,0.034,0.068,0.034,0.054,-0.007,-0.034,0.007,-0.007]),
    ETH=(1986, 1, [0.02,0.02,0.02,0.02,0.02,0.022,0.02,0.022,0.027,0.027,0.027,0.03,0.034,0.036,0.04,0.037,0.034,0.027,0.02,0.014,0.007,0.0,-0.007,-0.014,-0.02,-0.02]),
    OTTM=(1986, 1, [0.245,0.224,0.2,0.197,0.184,0.184,0.156,0.177,0.184,0.17,0.143,0.109,0.102,0.082,0.061,0.041,0.034,0.02,0.02,-0.048,-0.061,-0.075,-0.095,-0.116,-0.109,-0.143]),
    PU=(1986, 1, [0.09,0.09,0.09,0.09,0.09,0.08,0.08,0.08,0.07,0.07,0.07,0.08,0.08,0.08,0.08,0.08,0.07,0.07,0.07,0.06,0.05,0.05,0.04,0.04]),
    AOML=(1986, 2, [0.07,0.065,0.06,0.06,0.06,0.06,0.05,0.05,0.05,0.06,0.08,0.06,0.05]),
    CU=(1986, 2, [0.08,0.08,0.08,0.075,0.07,0.07,0.065,0.06,0.06,0.06,0.05,0.05,0.04]),
    CARB=(1990, 1, [0.0,-0.01,-0.02,-0.04,-0.02,0.0,0.01,0.02,0.03,0.02,0.0,-0.01,-0.02,-0.03,-0.04,-0.05,-0.06,-0.07,-0.09,-0.1]),
    UEX=(1993, 2, [0.05,0.04,0.04,0.03,0.03,0.02,0.01,0.0,-0.02,-0.03]),
    JMA=(1990, 2, [0.04,0.04,0.04,0.04,0.04,0.03,0.03,0.02,0.01,0.0,-0.02,-0.03]),
    NNN=(1992, 2, [0.03,0.03,0.03,0.03,0.03,0.02,0.02,0.01,0.0,-0.01,-0.02]),
    NSOM=(1999, 2, [0.03,0.025,0.02,0.01,0.0,-0.03]),
    UNSW=(1999, 2, [0.02,0.01,0.0,-0.01,-0.02,-0.03,-0.04]),
    OFX=(1995, 2, [0.04,0.035,0.03,0.025,0.02,0.015,0.0,-0.01]),
)

B17 = dict(
    UEA=(1986, 1, [0.02,0.01,0.0,0.0,0.0,0.0,0.0,0.005,0.01,0.005,0.0,0.0,0.0,-0.005,-0.01,-0.01,-0.01,-0.015,-0.02,-0.025,-0.03,-0.035,-0.04,-0.045,-0.05,-0.06]),
    ETH=(1986, 1, [0.02,0.007,-0.02,-0.027,-0.027,-0.027,-0.034,-0.02,-0.007,-0.014,0.0,0.02,0.027,0.048,0.034,0.061,0.02,0.007,-0.014,-0.027,-0.034,-0.041,-0.034,-0.048,-0.061,-0.088]),
    UNSW=(1999, 1, [0.054,0.034,0.048,0.02,-0.007,-0.014,-0.027,-0.027,-0.02,-0.027,-0.014,-0.027,-0.02]),
    OTTM=(1986, 1, [0.245,0.23,0.19,0.177,0.19,0.184,0.163,0.184,0.156,0.136,0.116,0.09,0.05,0.04,0.02,0.01,0.0,-0.01,-0.02,-0.03,-0.03,-0.04,-0.05,-0.05,-0.06,-0.06]),
    JENA=(1987, 1, [0.0,0.01,0.0,-0.01,0.0,0.0,-0.01,0.0,0.01,0.0,0.0,-0.01,-0.01,0.0,0.0,-0.01,-0.02,-0.02,-0.01,-0.02,-0.02,-0.02,-0.03,-0.02,-0.02]),
    PU=(1986, 1, [0.0,-0.01,-0.02,-0.02,-0.02,-0.02,-0.03,-0.02,-0.02,-0.02,-0.03,-0.03,-0.03,-0.04,-0.04,-0.04,-0.05,-0.05,-0.05,-0.06,-0.06,-0.07,-0.07,-0.07]),
    AOML=(1986, 2, [0.04,0.02,0.0,0.0,0.01,0.01,0.0,0.0,-0.01,-0.03,-0.03,-0.04,-0.04]),
    CU=(1986, 2, [0.03,0.03,0.02,0.02,0.02,0.02,0.01,0.0,-0.01,-0.02,-0.02,-0.02,-0.02]),
    JMA=(1990, 2, [0.0,0.01,0.01,0.02,0.02,0.03,0.03,0.02,0.02,0.03,0.03,0.02]),
    UEX=(1993, 2, [0.02,0.01,0.01,0.0,0.0,-0.01,-0.02,-0.02,-0.03,-0.04]),
    CARB=(1990, 1, [0.0,0.0,0.0,0.0,0.0,0.0,0.0,0.01,0.02,0.03,0.03,0.04,0.06,0.02,-0.01,-0.02,-0.01,0.0,0.0,-0.01]),
    NNN=(1992, 2, [-0.02,-0.02,-0.01,-0.01,-0.01,-0.02,-0.02,-0.03,-0.03,-0.04,-0.05]),
    NSOM=(1999, 2, [0.0,-0.01,-0.02,-0.03,-0.04,-0.05]),
    OFX=(1995, 2, [0.0,0.0,-0.01,-0.01,-0.01,-0.02,-0.02,-0.02]),
)

# panels: (title, row, col, (ymin, ymax, yticks), data, linewidth overrides)
Y_A = (-0.6, 0.2, [0.2, 0.0, -0.2, -0.4, -0.6])
Y_B = (-0.4, 0.4, [0.4, 0.2, 0.0, -0.2, -0.4])
PANELS = [
    ("Biome 2 - NP SPSS", 0, 0, Y_A, B2, {}),
    ("Global", 0, 2, (-3.0, -0.5, [-0.5, -1.0, -1.5, -2.0, -2.5, -3.0]), GLOBAL,
     dict(UEA=3.5, JENA=5.0, ETH=4.5, UNSW=3.0, NSOM=2.5, NNN=3.0, PU=2.5)),
    ("Biome 3 - NP STSS", 1, 0, Y_A, B3, {}),
    ("Biome 9 - NA SPSS", 1, 1, Y_A, B9, dict(JENA=1.0, ETH=2.0, UNSW=1.0)),
    ("Biome 4 - NP STPS", 2, 0, Y_A, B4, {}),
    ("Biome 10 - NA STSS", 2, 1, Y_A, B10, {}),
    ("Biome 14 - IND STPS", 2, 2, Y_A, B14, dict(JENA=1.0, ETH=1.6, UNSW=1.0)),
    ("Biome 5 - PEQU-W", 3, 0, Y_B, B5, {}),
    ("Biome 11 - NA STPS", 3, 1, Y_B, B11, {}),
    ("Biome 15 - SO STSS", 3, 2, (-1.0, -0.2, [-0.2, -0.4, -0.6, -0.8, -1.0]), B15,
     dict(JENA=2.5, ETH=1.6, UNSW=1.0)),
    ("Biome 6 - PEQU-E", 4, 0, (0.0, 0.8, [0.8, 0.6, 0.4, 0.2, 0.0]), B6, {}),
    ("Biome 12 - AEQU", 4, 1, Y_B, B12, {}),
    ("Biome 16 - SO SPSS", 4, 2, Y_A, B16, dict(JENA=2.5, ETH=1.6, UNSW=1.0)),
    ("Biome 7 - SP STPS", 5, 0, Y_A, B7, dict(UNSW=1.0)),
    ("Biome 13 - SA STPS", 5, 1, Y_B, B13, dict(UNSW=1.0)),
    ("Biome 17 - SO ICE", 5, 2, Y_B, B17, dict(JENA=1.0, ETH=3.0)),
]

BASE_LW = dict(UEA=3.0, JENA=3.5, ETH=3.5, UNSW=2.5)
DASHDOT = (0, (11, 4, 2, 4))
STYLE = dict(OFX=DASHDOT, CU=DASHDOT, UEX=DASHDOT, OTTM=(0, (11, 5, 2, 5)))
DRAW_ORDER = ["OTTM", "OFX", "CU", "AOML", "UEX", "JMA", "CARB", "NSOM", "NNN", "PU",
              "UNSW", "UEA", "JENA", "ETH"]

# ---------------- figure ----------------
sns.set_style("white")
plt.rcParams["font.family"] = ["Liberation Sans", "DejaVu Sans"]
plt.rcParams["axes.unicode_minus"] = False

W, H = 1340, 1476
fig = plt.figure(figsize=(W / 100, H / 100), dpi=100)
COL_L = [96, 526, 956]
AX_W = 372
ROW_T = [36, 278, 520, 762, 1004, 1246]
AX_H = 195
FS = 17
END_SHIFT = 7 / 100.0  # inches: end tick labels pulled inside the frame


def rect(row, col):
    return [COL_L[col] / W, 1 - (ROW_T[row] + AX_H) / H, AX_W / W, AX_H / H]


for title, row, col, (y0, y1, yt), data, lwo in PANELS:
    ax = fig.add_axes(rect(row, col))
    for key in DRAW_ORDER:
        if key not in data:
            continue
        start, step, vals = data[key]
        xs = start + step * np.arange(len(vals))
        lw = lwo.get(key, BASE_LW.get(key, 1.0))
        color = COLORS[SERIES.index(key)]
        ls = STYLE.get(key, "-")
        sns.lineplot(x=xs, y=np.array(vals), ax=ax, color=color, linewidth=lw, linestyle=ls,
                     estimator=None, errorbar=None, sort=False, legend=False)
    ax.set_xlim(1986, 2012)
    ax.set_ylim(y0, y1)
    ax.yaxis.set_major_locator(FixedLocator(yt))
    ax.yaxis.set_major_formatter(FormatStrFormatter("%.1f"))
    ax.xaxis.set_major_locator(FixedLocator([1990, 1995, 2000, 2005, 2010]))
    ax.xaxis.set_minor_locator(MultipleLocator(1))
    ax.tick_params(axis="both", which="both", direction="in", top=True, right=True,
                   colors="black", labelsize=FS)
    ax.tick_params(axis="both", which="major", length=6, width=1.0)
    ax.tick_params(axis="x", which="minor", length=3, width=0.8)
    ax.tick_params(axis="x", which="major", pad=11)
    ax.tick_params(axis="y", which="major", pad=5)
    if not (row == 5 or title == "Global"):
        ax.tick_params(axis="x", which="both", labelbottom=False)
    for s in ax.spines.values():
        s.set_linewidth(1.2)
        s.set_color("black")
        s.set_visible(True)
    ax.set_xlabel("")
    ax.set_ylabel("")
    ax.set_title(title, fontsize=17.3, pad=7)
    ax.grid(False)
    # pull the end labels of the y axis inside the frame height
    ticks = ax.yaxis.get_major_ticks()
    top_lab, bot_lab = ticks[0].label1, ticks[-1].label1
    top_lab.set_transform(top_lab.get_transform() + ScaledTranslation(0, -END_SHIFT, fig.dpi_scale_trans))
    bot_lab.set_transform(bot_lab.get_transform() + ScaledTranslation(0, END_SHIFT, fig.dpi_scale_trans))

# legend panel
lax = fig.add_axes(rect(0, 1))
lax.axis("off")
LEG_LW = dict(UEA=2.5, JENA=4.0, UNSW=2.5, ETH=4.0, NSOM=2.0, NNN=2.0, PU=2.0)
handles = []
for key, lab, col in zip(SERIES, LABELS, COLORS):
    handles.append(Line2D([0], [0], color=col, lw=LEG_LW.get(key, 1.0),
                          linestyle=STYLE.get(key, "-"), label=lab))
leg = lax.legend(handles=handles, loc="upper left", bbox_to_anchor=(526 / W, 1 - 28.5 / H),
                 bbox_transform=fig.transFigure, frameon=False, fontsize=10.4,
                 handlelength=3.75, handletextpad=0.45, labelspacing=0.0,
                 borderpad=0, borderaxespad=0)
for txt, col in zip(leg.get_texts(), COLORS):
    txt.set_color(col)

fig.text(20 / W, 1 - 860 / H, "Yearly CO2 flux (PgC/yr)", rotation=90, fontsize=FS,
         ha="center", va="center")

fig.savefig("out.png", dpi=100)
